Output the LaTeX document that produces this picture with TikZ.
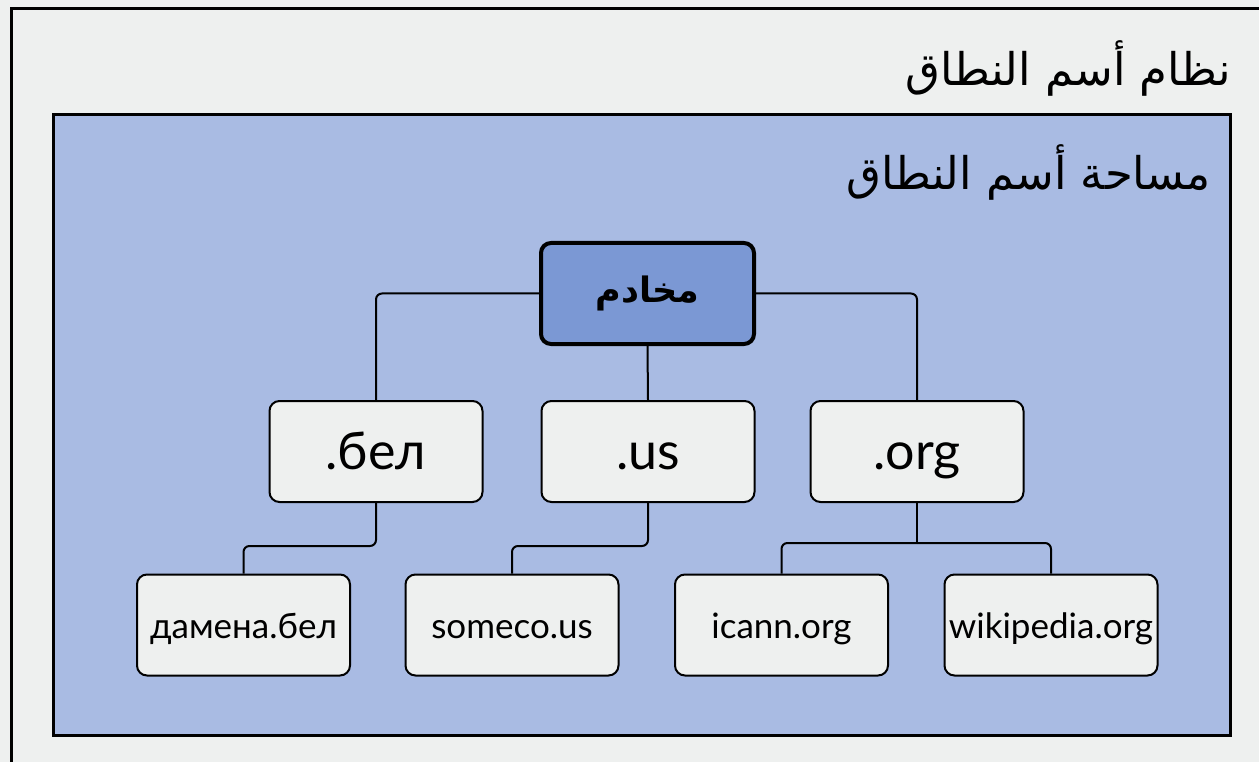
\documentclass[tikz,border=0pt]{standalone}
\usepackage{fontspec}
\usepackage{tikz}
\usetikzlibrary{positioning}
\setmainfont{Lato}
\newfontfamily\arabicfont[Script=Arabic]{DejaVu Sans}
\TeXXeTstate=1
\definecolor{PaleGrey}{HTML}{EEF0EF}
\definecolor{SpaceBlue}{HTML}{A9BBE3}
\definecolor{RootBlue}{HTML}{7B98D4}
\tikzstyle{dnsbox} = [rectangle, minimum width=213pt, minimum height=101pt, draw = black, line width=2pt, fill = PaleGrey, text centered, rounded corners=10pt, inner sep=0pt]
\tikzstyle{tld} = [dnsbox, font=\fontsize{52}{56}\selectfont, text height=35pt, text depth=0pt]
\tikzstyle{leaf} = [dnsbox, font=\fontsize{35}{40}\selectfont, text height=26pt, text depth=0pt]
\tikzstyle{rootblock} = [dnsbox, line width=4pt, fill = RootBlue]
\tikzstyle{title} = [anchor=east, inner sep=0pt, font=\fontsize{45}{52}\selectfont]
\tikzstyle{line} = [draw, line width=2pt, rounded corners=6pt]

\begin{document}
\begin{tikzpicture}[x=1pt, y=-1pt]

    % frame and namespace
    \fill [PaleGrey] (0,0) rectangle (1259,762);
    \clip (0,0) rectangle (1259,762);
    \useasboundingbox (0,0) rectangle (1259,762);
    \draw [line width=3pt] (11,9) rectangle (1300,800);
    \draw [line width=3pt, fill=SpaceBlue] (53,115) rectangle (1230,735);

    \node (system) [title] at (1231,68)  {\arabicfont\beginR نظام أسم النطاق\endR};
    \node (space)  [title] at (1211,172) {\arabicfont\beginR مساحة أسم النطاق\endR};

    % tree
    \node (root)   [rootblock] at (647.5,293.5)
          {\fontsize{35}{40}\selectfont\arabicfont\bfseries\beginR مخادم\endR};
    \node (bel)    [tld] at (376,451.5) {.бел};
    \node (us)     [tld] at (648,451.5) {.us};
    \node (org)    [tld] at (917,451.5) {.org};
    \node (damena) [leaf] at (243.5,625) {дамена.бел};
    \node (someco) [leaf] at (512,625)   {someco.us};
    \node (icann)  [leaf] at (781.5,625) {icann.org};
    \node (wiki)   [leaf] at (1051,625)  {wikipedia.org};

    \path [line]   (root.west)  -| (bel.north);
    \path [line]   (root.east)  -| (org.north);
    \path [line]   (root.south) -- (us.north);
    \path [line]   (bel.south)  -- ++(0,43) -| (damena.north);
    \path [line]   (us.south)   -- ++(0,43) -| (someco.north);
    \path [line]   (org.south)  -- ++(0,40) coordinate (orgsplit);
    \path [line]   (orgsplit)   -| (icann.north);
    \path [line]   (orgsplit)   -| (wiki.north);
  \end{tikzpicture}
\end{document}
